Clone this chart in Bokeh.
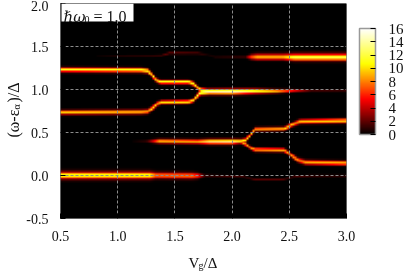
import numpy as np
from bokeh.plotting import figure
from bokeh.models import (ColorBar, LinearColorMapper, FixedTicker, Label, BoxAnnotation, Range1d, AllLabels)
from bokeh.embed import file_html
from bokeh.resources import INLINE

x_ticks = [0.5, 1.0, 1.5, 2.0, 2.5, 3.0]
y_ticks = [-0.5, 0.0, 0.5, 1.0, 1.5, 2.0]
cbar_ticks = [0, 2, 4, 6, 8, 10, 12, 14, 16]

# Ridges of the spectral map: gate voltage, energy, peak height, half width
upper_v = [0.5, 1.2, 1.26, 1.3, 1.33, 1.37, 1.62, 1.66, 1.72, 1.8]
upper_e = [1.235, 1.23, 1.22, 1.17, 1.115, 1.09, 1.09, 1.07, 1.0, 0.985]
upper_a = [11, 11, 11, 11, 11, 11, 11, 11, 11, 12]
upper_w = [.024, .024, .023, .023, .022, .021, .021, .021, .02, .02]

lower_v = [0.5, 1.2, 1.26, 1.3, 1.34, 1.38, 1.62, 1.66, 1.72, 1.8, 2.0, 2.2, 2.4, 2.55, 2.7, 3.0]
lower_e = [0.735, 0.74, 0.745, 0.78, 0.83, 0.85, 0.855, 0.875, 0.96, 0.975, 0.975, 0.98, 0.98, 0.985, 0.985, 0.985]
lower_a = [10, 10, 10, 10, 10, 10, 10, 10.5, 12, 16, 17, 13, 11, 6, 2.0, 1.6]
lower_w = [.024, .024, .023, .023, .022, .021, .021, .021, .024, .028, .028, .026, .02, .016, .012, .012]

top_v = [0.8, 1.0, 1.3, 1.38, 1.45, 1.7, 1.78, 1.85, 2.12, 2.17, 2.22, 2.45, 2.55, 3.0]
top_e = [1.395, 1.395, 1.395, 1.40, 1.43, 1.43, 1.41, 1.385, 1.385, 1.385, 1.385, 1.385, 1.38, 1.38]
top_a = [0.3, 1.0, 1.4, 1.8, 2.0, 1.5, 0.5, 1.0, 2.0, 7, 9.5, 9.5, 12, 12]
top_w = [.012, .012, .012, .012, .014, .014, .014, .012, .012, .028, .032, .032, .038, .038]

mid_v = [1.12, 1.25, 1.31, 1.36, 1.7, 1.8, 2.0, 2.08, 2.12, 2.16, 2.2, 2.46, 2.53, 2.6, 3.0]
mid_e = [0.395, 0.395, 0.395, 0.395, 0.39, 0.39, 0.39, 0.395, 0.41, 0.46, 0.535, 0.54, 0.59, 0.625, 0.635]
mid_a = [0.3, 1.5, 6, 10.5, 10.5, 14, 15, 12, 10, 10, 10, 10, 9.5, 9.5, 9.5]
mid_w = [.012, .014, .02, .023, .023, .026, .026, .022, .02, .018, .021, .021, .021, .024, .026]

split_v = [2.0, 2.08, 2.12, 2.16, 2.2, 2.46, 2.52, 2.58, 2.65, 3.0]
split_e = [0.385, 0.385, 0.36, 0.32, 0.295, 0.29, 0.235, 0.175, 0.15, 0.14]
split_a = [8, 9, 9, 9, 9, 9, 9, 9, 9, 9]
split_w = [.016, .018, .018, .018, .019, .019, .02, .023, .025, .025]

zero_v = [0.5, 1.28, 1.33, 1.65, 1.7, 1.76, 1.85, 2.1, 2.2, 2.45, 2.55, 2.7, 3.0]
zero_e = [-0.005, -0.005, -0.005, -0.01, -0.01, -0.01, -0.01, -0.02, -0.055, -0.055, -0.02, -0.01, -0.01]
zero_a = [11, 11, 7.5, 7.5, 6, 1.2, 1.3, 1.4, 1.8, 1.8, 1.5, 1.2, 1.0]
zero_w = [.04, .04, .036, .036, .032, .016, .012, .012, .012, .012, .012, .012, .012]

ridges = [(upper_v, upper_e, upper_a, upper_w), (lower_v, lower_e, lower_a, lower_w),
          (top_v, top_e, top_a, top_w), (mid_v, mid_e, mid_a, mid_w),
          (split_v, split_e, split_a, split_w), (zero_v, zero_e, zero_a, zero_w)]

# The map itself, on the reference's coarse raster
V = np.linspace(0.5, 3.0, 143)
E = np.linspace(-0.5, 2.0, 125)
Z = np.zeros((E.size, V.size))
for rv, re_, ra, rw in ridges:
    for j, v in enumerate(V):
        if v < rv[0] or v > rv[-1]:
            continue
        e0 = np.interp(v, rv, re_)
        a0 = np.interp(v, rv, ra)
        w0 = np.interp(v, rv, rw)
        Z[:, j] = np.maximum(Z[:, j], a0 * np.exp(-((E - e0) / w0) ** 2))

# gnuplot-like hot palette
palette = []
for t in np.linspace(0, 1, 256):
    r, g, b = [min(1.0, max(0.0, 3 * t - k)) for k in (0, 1, 2)]
    palette.append("#%02x%02x%02x" % (int(r * 255), int(g * 255), int(b * 255)))
mapper = LinearColorMapper(palette=palette, low=0, high=16)

W, H = 404, 271
left, right, top, bottom = 60, 346, 3, 218
p = figure(width=W, height=H, output_backend="svg", toolbar_location=None,
           x_range=Range1d(0.5, 3.0), y_range=Range1d(-0.5, 2.0),
           min_border_left=left, min_border_right=W - right,
           min_border_top=top, min_border_bottom=H - bottom)
p.styles = {"position": "fixed", "left": "0px", "top": "0px"}
p.outline_line_color = None
p.background_fill_color = "black"
p.border_fill_color = "white"

p.image(image=[Z], x=0.5, y=-0.5, dw=2.5, dh=2.5, color_mapper=mapper, level="image")

FONT = "Liberation Serif"
for ax, ticks in ((p.xaxis[0], x_ticks), (p.yaxis[0], y_ticks)):
    ax.ticker = FixedTicker(ticks=ticks)
    ax.major_label_overrides = {t: "%.1f" % t for t in ticks}
    ax.major_label_text_font = FONT
    ax.major_label_text_font_size = "14px"
    ax.major_label_text_color = "#111111"
    ax.axis_line_color = None
    ax.minor_tick_line_color = None
    ax.major_tick_in = 5
    ax.major_tick_out = 0
    ax.major_tick_line_color = "black"
p.xaxis[0].major_label_standoff = 12
p.yaxis[0].major_label_standoff = 12

for g in (p.xgrid[0], p.ygrid[0]):
    g.grid_line_color = "#8c8c8c"
    g.grid_line_dash = "3 2"
    g.grid_line_width = 1
p.xgrid[0].ticker = FixedTicker(ticks=x_ticks)
p.ygrid[0].ticker = FixedTicker(ticks=y_ticks)

cb = ColorBar(color_mapper=mapper, ticker=FixedTicker(ticks=cbar_ticks), location=(359 - left, bottom - 134),
              width=16, height=106, padding=0, margin=0, major_label_policy=AllLabels(),
              major_label_text_font=FONT, major_label_text_font_size="15px", major_label_text_color="#111111",
              major_label_overrides={t: str(t) for t in cbar_ticks},
              major_tick_line_color="black", major_tick_in=5, minor_tick_line_color=None,
              bar_line_color="#999999", bar_line_width=1.5, label_standoff=13,
              background_fill_color=None, border_line_color=None)
p.add_layout(cb, "center")


def screen_label(x, y, text, size, style="normal", angle=0.0, font=FONT, panel="center"):
    # canvas pixels, measured from the top-left of the page
    p.add_layout(Label(x=x, y=y, x_units="canvas", y_units="canvas", text=text, text_font=font,
                       text_font_size=f"{size}px", text_font_style=style, angle=angle, text_color="#111111",
                       text_align="left", text_baseline="alphabetic"), panel)


p.add_layout(BoxAnnotation(left=1, right=133 - left, top=bottom - 3, bottom=bottom - 21, left_units="screen",
                           right_units="screen", top_units="screen", bottom_units="screen", fill_color="white",
                           fill_alpha=1, line_color=None))
screen_label(63, 16, "ℏω", 15, "italic", font="DejaVu Serif")
screen_label(84, 19, "0", 10)
screen_label(93, 16, "= 1.0", 16)

# composed axis titles (with subscripts); side panels only have room for so many
screen_label(188, 262, "V", 15, panel="below")
screen_label(198, 265, "g", 10, panel="right")
screen_label(203, 262, "/Δ", 15, panel="right")
rot = np.pi / 2
screen_label(13, 137, "(ω-ε", 16, angle=rot, panel="left")
screen_label(16, 109, "α", 10, angle=rot, panel="right")
screen_label(13, 102, ")/Δ", 16, angle=rot, panel="right")

open("out.html", "w").write(file_html(p, INLINE))
